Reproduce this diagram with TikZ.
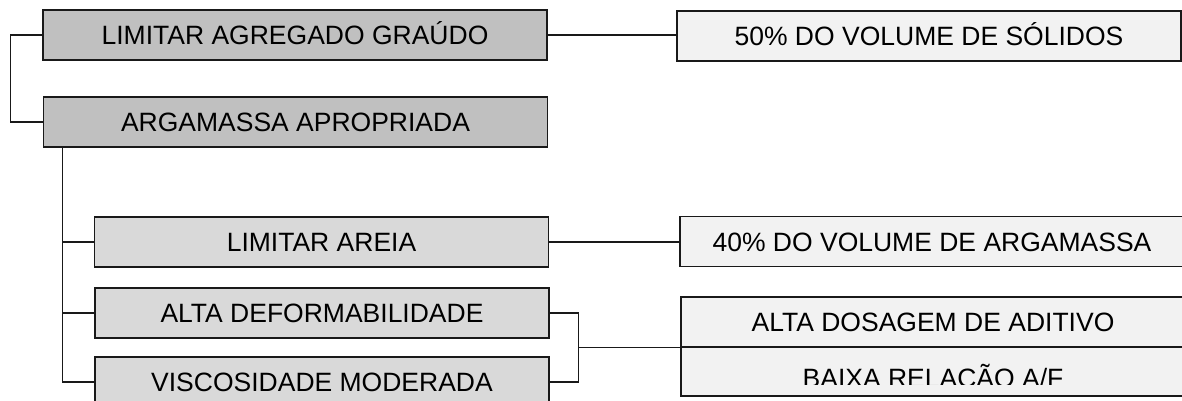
\documentclass[tikz,border=0pt]{standalone}
\usepackage{fontspec}
\setmainfont{Liberation Sans}
\usepackage{xcolor}
\usepackage{tikz}
\usetikzlibrary{calc}
\definecolor{cinzaA}{HTML}{C0C0C0}
\definecolor{cinzaB}{HTML}{D9D9D9}
\definecolor{cinzaC}{HTML}{F2F2F2}

\begin{document}
\begin{tikzpicture}[x=1pt,y=-1pt,
		caixa/.style={rectangle,draw=black!90,line width=1.6pt,inner sep=0pt,minimum height=50pt,text height=19pt,text depth=0pt,font=\fontsize{26.5}{30}\selectfont},
		nivelA/.style={caixa,fill=cinzaA,minimum width=504pt},
		nivelB/.style={caixa,fill=cinzaB,minimum width=454pt},
		nivelC/.style={caixa,fill=cinzaC,minimum width=504pt},
		liga/.style={line width=1.3pt,black!90}]
		\useasboundingbox (0,0) rectangle (1182,401);
		\node[nivelA] (agregado) at (295,35) {LIMITAR AGREGADO GRAÚDO};
		\node[nivelA] (argamassa) at (295.5,122) {ARGAMASSA APROPRIADA};
		\node[nivelC] (solidos) at (929,36) {50\% DO VOLUME DE SÓLIDOS};
		\node[nivelB] (areia) at (321.5,242) {LIMITAR AREIA};
		\node[nivelB] (deform) at (322,313) {ALTA DEFORMABILIDADE};
		\node[nivelB] (viscos) at (322,382) {VISCOSIDADE MODERADA};
		\node[nivelC] (vol40) at (932,241.5) {40\% DO VOLUME DE ARGAMASSA};
		\node[nivelC] (dosagem) at (933,322) {ALTA DOSAGEM DE ADITIVO};
		\node[nivelC,minimum height=49pt] (relacao) at (933,371.5) {};
		\begin{scope}
			\clip (681,348) rectangle (1185,384);
			\node[caixa,draw=none,fill=none] (relacaotxt) at (933,377.5) {BAIXA RELAÇÃO A/F};
		\end{scope}
		\draw[liga] (agregado.west) -- ++(-32,0) |- (argamassa.west);
		\draw[liga] (agregado.east) -- (agregado.east -| solidos.west);
		\coordinate (tronco) at ($(argamassa.south west)+(20,0)$);
		\draw[liga] (tronco) |- (viscos.west);
		\draw[liga] (tronco |- areia.west) -- (areia.west);
		\draw[liga] (tronco |- deform.west) -- (deform.west);
		\draw[liga] (areia.east) -- (areia.east -| vol40.west);
		\draw[liga] (deform.east) -- ++(29,0) coordinate (chave) |- (viscos.east);
		\coordinate (meio) at ($(chave)!.5!(chave |- viscos.east)$);
		\draw[liga] (meio) -- (meio -| dosagem.west);
	\end{tikzpicture}
\end{document}
